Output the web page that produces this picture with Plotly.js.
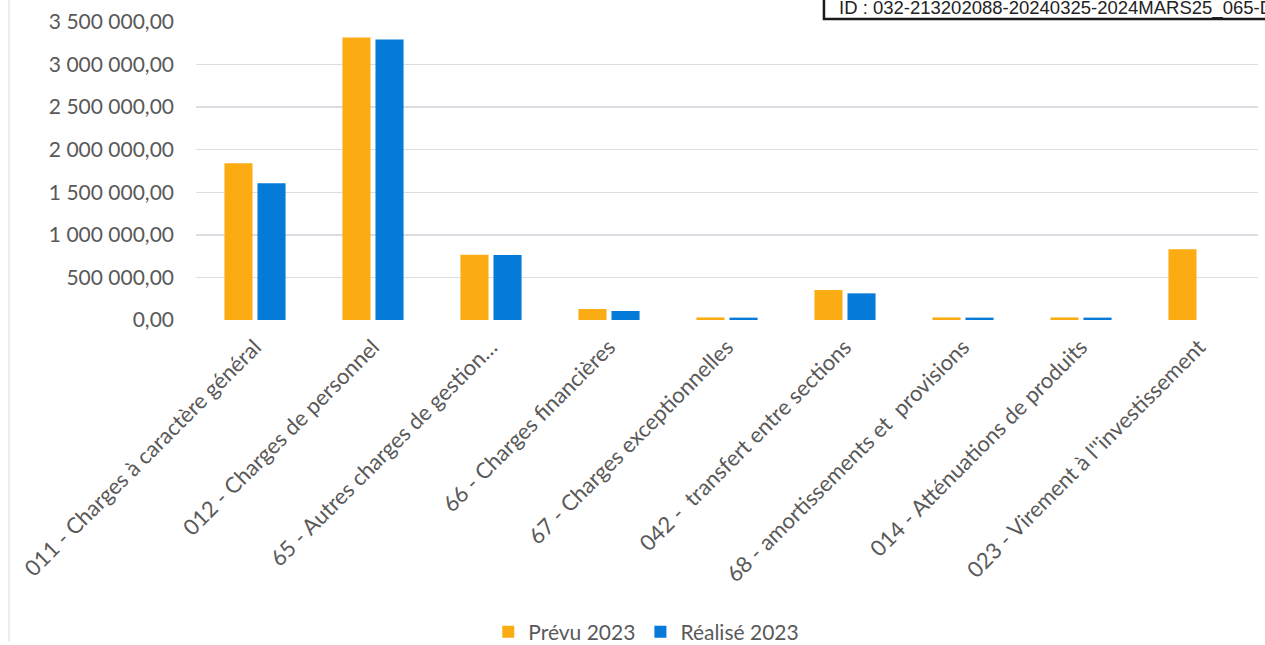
<!DOCTYPE html>
<html>
<head>
<meta charset="utf-8">
<script src="https://cdn.plot.ly/plotly-3.0.1.min.js"></script>
<style>
  html, body { margin: 0; padding: 0; background: #ffffff; }
  #chart { width: 1265px; height: 645px; }
</style>
</head>
<body>
<div id="chart"></div>
<script>
// Chapitres de la section de fonctionnement (dépenses)
const categories = [
  "011 - Charges à caractère général",
  "012 - Charges de personnel",
  "65 - Autres charges de gestion…",
  "66 - Charges financières",
  "67 - Charges exceptionnelles",
  "042 -\u00a0\u00a0transfert entre sections",
  "68 - amortissements et\u00a0\u00a0provisions",
  "014 - Atténuations de produits",
  "023 - Virement à l''investissement"
];

// Montants prévus et réalisés (euros)
const prevu2023 = [1840000, 3318000, 765000, 129000, 30000, 352000, 30000, 30000, 830000];
const realise2023 = [1605000, 3294000, 762000, 106000, 28000, 313000, 28000, 28000, 0];

// Graduations de l'axe des montants
const yTickValues = [0, 500000, 1000000, 1500000, 2000000, 2500000, 3000000, 3500000];
const yTickLabels = ["0,00", "500 000,00", "1 000 000,00", "1 500 000,00",
                     "2 000 000,00", "2 500 000,00", "3 000 000,00", "3 500 000,00"];

const docId = "ID : 032-213202088-20240325-2024MARS25_065-DE";

const textFont = { family: "Lato, 'Open Sans', sans-serif", size: 21, color: "#595959" };
const categoryFont = { family: "Lato, 'Open Sans', sans-serif", size: 22, color: "#595959" };

const traces = [
  {
    type: "bar",
    name: "Prévu 2023",
    x: categories,
    y: prevu2023,
    marker: { color: "#FAAC12" },
    hoverinfo: "x+y"
  },
  {
    type: "bar",
    name: "Réalisé 2023",
    x: categories,
    y: realise2023,
    marker: { color: "#067AD8" },
    hoverinfo: "x+y"
  }
];

const layout = {
  width: 1265,
  height: 645,
  margin: { l: 196, r: 7, t: 22, b: 325 },
  paper_bgcolor: "#ffffff",
  plot_bgcolor: "#ffffff",
  barmode: "group",
  bargap: 0.44,
  bargroupgap: 0.15,
  font: textFont,
  showlegend: true,
  legend: {
    orientation: "h",
    xref: "paper",
    x: 0.424,
    xanchor: "center",
    yref: "container",
    y: 0.02,
    yanchor: "middle",
    font: textFont,
    itemwidth: 30,
    traceorder: "normal"
  },
  xaxis: {
    type: "category",
    tickangle: -45,
    tickfont: categoryFont,
    ticklabelstandoff: 9,
    showgrid: false,
    showline: false,
    zeroline: false,
    ticks: "",
    automargin: false
  },
  yaxis: {
    range: [0, 3500000],
    tickmode: "array",
    tickvals: yTickValues,
    ticktext: yTickLabels,
    tickfont: textFont,
    showgrid: true,
    gridcolor: "#dcdce2",
    gridwidth: 1.5,
    zeroline: false,
    showline: false,
    ticks: "",
    ticklabelstandoff: 21,
    automargin: false
  },
  shapes: [
    {
      type: "rect",
      xref: "paper", yref: "paper",
      x0: 0.5913, x1: 1.2,
      y0: 1.0101, y1: 1.12,
      line: { color: "#1a1a1a", width: 2.5 },
      fillcolor: "#ffffff",
      layer: "below"
    },
    {
      type: "line",
      xref: "paper", yref: "paper",
      x0: -0.176, x1: -0.176,
      y0: 1.08, y1: -1.08,
      line: { color: "#ececec", width: 2 }
    }
  ],
  annotations: [
    {
      text: docId,
      xref: "paper", yref: "paper",
      x: 0.6036, y: 1.047,
      xanchor: "left", yanchor: "middle",
      showarrow: false,
      font: { family: "Arial, 'Liberation Sans', sans-serif", size: 18.5, color: "#222222" }
    }
  ]
};

Plotly.newPlot("chart", traces, layout, { displayModeBar: false, staticPlot: true });
</script>
</body>
</html>
